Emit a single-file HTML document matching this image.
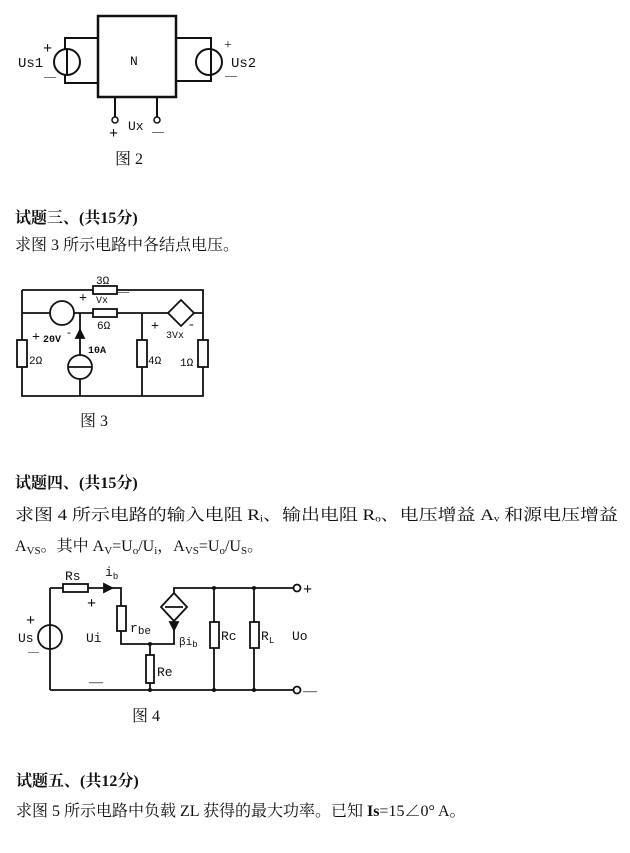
<!DOCTYPE html>
<html><head><meta charset="utf-8"><style>
body{margin:0;background:#fff}
svg{display:block}
text{font-family:"Liberation Serif","Noto Serif CJK SC",serif;fill:#111}
.t{font-size:16px}
.b{font-weight:bold;font-size:16px}
.s{font-size:11px;font-family:"Liberation Mono",monospace}
</style></head><body>
<svg width="630" height="853" viewBox="0 0 630 853" xmlns="http://www.w3.org/2000/svg" stroke="#111" fill="none" stroke-width="2">
<!-- Fig 2 -->
<rect x="98" y="16" width="78" height="81" stroke-width="2.5"/>
<polyline points="98,38 65,38 65,83 98,83"/>
<polyline points="176,38 211,38 211,81 176,81"/>
<circle cx="67" cy="62" r="13" fill="#fff"/><line x1="67" y1="49" x2="67" y2="75"/>
<circle cx="209" cy="62" r="13" fill="#fff"/><line x1="211" y1="49" x2="211" y2="75"/>
<line x1="115" y1="97" x2="115" y2="117"/><line x1="157" y1="97" x2="157" y2="117"/>
<circle cx="115" cy="120" r="3" stroke-width="1.5"/><circle cx="157" cy="120" r="3" stroke-width="1.5"/>
<g stroke="none">
<text x="18" y="67" class="s" style="font-size:14px">Us1</text>
<text x="43" y="53" style="font-size:16px;font-weight:bold">+</text>
<text x="44" y="80" style="font-size:12px">—</text>
<text x="231" y="67" class="s" style="font-size:14px">Us2</text>
<text x="224" y="49" style="font-size:14px">+</text>
<text x="225" y="79" style="font-size:12px">—</text>
<text x="130" y="65" class="s" style="font-size:13px">N</text>
<text x="109" y="138" style="font-size:16px;font-weight:bold">+</text>
<text x="128" y="130" class="s" style="font-size:13px">Ux</text>
<text x="152" y="135" style="font-size:12px">—</text>
<text x="115" y="164" style="font-size:16px">图 2</text>
<text x="15" y="223" class="b">试题三、(共15分)</text>
<text x="15" y="250" class="t">求图 3 所示电路中各结点电压。</text>
</g>
<!-- Fig 3 -->
<g stroke-width="1.8">
<polyline points="22,290 203,290 203,396 22,396 22,290"/>
<line x1="22" y1="313" x2="203" y2="313"/>
<rect x="93" y="286" width="24" height="8" fill="#fff"/>
<rect x="93" y="309" width="24" height="8" fill="#fff"/>
<circle cx="62" cy="313" r="12" fill="#fff"/>
<polygon points="181,300 194,313 181,326 168,313" fill="#fff"/>
<line x1="80" y1="313" x2="80" y2="396"/>
<circle cx="80" cy="367" r="12" fill="#fff"/><line x1="69" y1="367" x2="91" y2="367"/>
<polygon points="80,330 76,338 84,338" fill="#111"/>
<line x1="142" y1="313" x2="142" y2="396"/>
<rect x="17" y="340" width="10" height="27" fill="#fff"/>
<rect x="137" y="340" width="10" height="27" fill="#fff"/>
<rect x="198" y="340" width="10" height="27" fill="#fff"/>
</g>
<g stroke="none" class="s">
<text x="96" y="284" class="s">3Ω</text>
<text x="79" y="302" style="font-size:14px;font-weight:bold">+</text>
<text x="117" y="295" style="font-size:12px">—</text>
<text x="96" y="303" class="s" style="font-size:10px">Vx</text>
<text x="97" y="329" class="s">6Ω</text>
<text x="32" y="341" style="font-size:14px;font-weight:bold">+</text>
<text x="43" y="342" class="s" style="font-size:10px;font-weight:bold">20V</text>
<text x="67" y="336" style="font-size:12px">-</text>
<text x="88" y="353" class="s" style="font-size:10px;font-weight:bold">10A</text>
<text x="29" y="364" class="s">2Ω</text>
<text x="148" y="364" class="s">4Ω</text>
<text x="180" y="366" class="s">1Ω</text>
<text x="151" y="330" style="font-size:14px;font-weight:bold">+</text>
<text x="189" y="328" style="font-size:14px">-</text>
<text x="166" y="338" class="s" style="font-size:10px">3Vx</text>
<text x="80" y="426" style="font-size:16px;font-family:'Liberation Serif','Noto Serif CJK SC',serif">图 3</text>
</g>
<g stroke="none">
<text x="15" y="488" class="b">试题四、(共15分)</text>
<text x="15" y="520" class="t" textLength="603" lengthAdjust="spacingAndGlyphs">求图 4 所示电路的输入电阻 Rᵢ、输出电阻 Rₒ、电压增益 Aᵥ 和源电压增益</text>
<text x="15" y="551" class="t">A<tspan font-size="11" dy="3">VS</tspan><tspan dy="-3">。其中 A</tspan><tspan font-size="11" dy="3">V</tspan><tspan dy="-3">=U</tspan><tspan font-size="11" dy="3">o</tspan><tspan dy="-3">/U</tspan><tspan font-size="11" dy="3">i</tspan><tspan dy="-3">，A</tspan><tspan font-size="11" dy="3">VS</tspan><tspan dy="-3">=U</tspan><tspan font-size="11" dy="3">o</tspan><tspan dy="-3">/U</tspan><tspan font-size="11" dy="3">S</tspan><tspan dy="-3">。</tspan></text>
</g>
<!-- Fig 4 -->
<g stroke-width="1.8">
<polyline points="50,588 121,588 121,644 174,644 174,621"/>
<line x1="50" y1="588" x2="50" y2="690"/>
<line x1="50" y1="690" x2="294" y2="690"/>
<polyline points="174,593 174,588 294,588"/>
<rect x="63" y="584" width="25" height="8" fill="#fff"/>
<polygon points="112,588 104,584 104,592" fill="#111"/>
<rect x="117" y="606" width="9" height="25" fill="#fff"/>
<circle cx="50" cy="637" r="12" fill="#fff"/><line x1="50" y1="625" x2="50" y2="649"/>
<polygon points="174,593 187,607 174,621 161,607" fill="#fff"/><line x1="165" y1="607" x2="183" y2="607"/>
<polygon points="174,630 170,622 178,622" fill="#111"/>
<line x1="150" y1="644" x2="150" y2="690"/>
<rect x="146" y="655" width="8" height="28" fill="#fff"/>
<line x1="214" y1="588" x2="214" y2="690"/>
<rect x="210" y="622" width="9" height="26" fill="#fff"/>
<line x1="254" y1="588" x2="254" y2="690"/>
<rect x="250" y="622" width="9" height="26" fill="#fff"/>
<circle cx="297" cy="588" r="3.5" fill="#fff"/><circle cx="297" cy="690" r="3.5" fill="#fff"/>
</g>
<g fill="#111" stroke="none">
<circle cx="150" cy="644" r="2"/><circle cx="150" cy="690" r="2"/>
<circle cx="214" cy="588" r="2"/><circle cx="214" cy="690" r="2"/>
<circle cx="254" cy="588" r="2"/><circle cx="254" cy="690" r="2"/>
</g>
<g stroke="none" class="s" style="font-size:13px">
<text x="65" y="580" class="s" style="font-size:13px">Rs</text>
<text x="105" y="576" class="s" style="font-size:13px">i<tspan font-size="9" dy="3">b</tspan></text>
<text x="87" y="608" style="font-size:16px;font-weight:bold">+</text>
<text x="26" y="625" style="font-size:16px;font-weight:bold">+</text>
<text x="18" y="642" class="s" style="font-size:13px">Us</text>
<text x="28" y="655" style="font-size:11px">—</text>
<text x="86" y="642" class="s" style="font-size:13px">Ui</text>
<text x="130" y="632" class="s" style="font-size:13px">r<tspan font-size="11" dy="2">be</tspan></text>
<text x="179" y="645" class="s" style="font-size:11px">βi<tspan font-size="9" dy="2">b</tspan></text>
<text x="221" y="640" class="s" style="font-size:13px">Rc</text>
<text x="261" y="640" class="s" style="font-size:13px">R<tspan font-size="9" dy="3">L</tspan></text>
<text x="292" y="640" class="s" style="font-size:13px">Uo</text>
<text x="157" y="676" class="s" style="font-size:13px">Re</text>
<text x="89" y="686" style="font-size:14px">—</text>
<text x="303" y="594" style="font-size:16px;font-weight:bold">+</text>
<text x="303" y="695" style="font-size:14px">—</text>
<text x="132" y="721" style="font-size:16px;font-family:'Liberation Serif','Noto Serif CJK SC',serif">图 4</text>
</g>
<g stroke="none">
<text x="16" y="786" class="b">试题五、(共12分)</text>
<text x="16" y="816" class="t">求图 5 所示电路中负载 ZL 获得的最大功率。已知 <tspan font-weight="bold">Is</tspan>=15∠0° A。</text>
</g>
</svg>
</body></html>
